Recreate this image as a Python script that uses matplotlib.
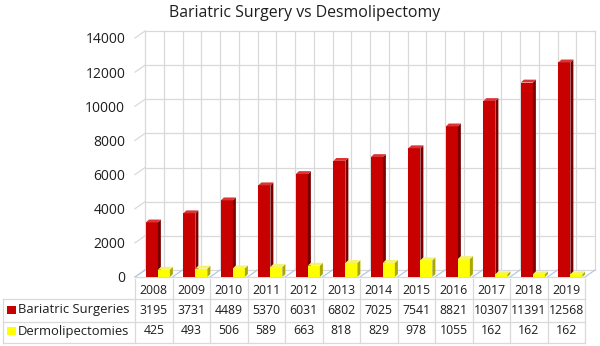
import matplotlib
matplotlib.use("Agg")
import matplotlib.pyplot as plt
from matplotlib.patches import Polygon, Rectangle
from matplotlib.transforms import blended_transform_factory

plt.rcParams['font.family'] = ['Open Sans', 'DejaVu Sans']

# ---- data ----
years = ['2008', '2009', '2010', '2011', '2012', '2013',
         '2014', '2015', '2016', '2017', '2018', '2019']
bariatric = [3195, 3731, 4489, 5370, 6031, 6802, 7025, 7541, 8821, 10307, 11391, 12568]
dermo = [425, 493, 506, 589, 663, 818, 829, 978, 1055, 162, 162, 162]
series_names = ['Bariatric Surgeries', 'Dermolipectomies']
y_ticks = [0, 2000, 4000, 6000, 8000, 10000, 12000, 14000]
title = 'Bariatric Surgery vs Desmolipectomy'

# ---- styling ----
W, H = 600, 346
RED = ('#C80000', '#7A0000', '#DC3434')      # front, side, top
YEL = ('#FFFF00', '#A8A800', '#F4F46A')
GRID = '#D9D9D9'
TXT = '#1E1E1E'


def fx(px):
    return px / W


def fy(px):
    return 1 - px / H


fig = plt.figure(figsize=(W / 100, H / 100), dpi=100)
ax = fig.add_axes([fx(135), fy(277), fx(585) - fx(135), fy(38) - fy(277)])
ax.set_xlim(-0.5, len(years) - 0.5)
ax.set_ylim(0, 14000)
for s in ax.spines.values():
    s.set_visible(False)
ax.set_xticks([])
ax.set_yticks(y_ticks)
ax.tick_params(axis='y', length=0, pad=7, labelsize=10, labelcolor=TXT)

# depth of the 3-D back wall, in data units
DX = 10 / 37.5
DY = 7 * 14000 / 239
n = len(years)

# back wall and left wall gridlines
for y in y_ticks:
    ax.plot([-0.5 + DX, n - 0.5 + DX], [y + DY, y + DY], color=GRID, lw=0.9,
            zorder=1, clip_on=False)
    ax.plot([-0.5, -0.5 + DX], [y, y + DY], color=GRID, lw=0.9,
            zorder=1, clip_on=False)
for k in range(2 * n + 1):
    xv = -0.5 + DX + 0.5 * k
    ax.plot([xv, xv], [DY, 14000 + DY], color=GRID, lw=0.9, zorder=1,
            clip_on=False)
# floor
for k in range(n + 1):
    xv = -0.5 + k
    ax.plot([xv, xv + DX], [0, DY], color='#B4C8E4', lw=0.9, zorder=1,
            clip_on=False)
ax.plot([-0.5, n - 0.5], [0, 0], color=GRID, lw=0.9, zorder=1, clip_on=False)

# bars with a simple 3-D face
BW = 0.32
dx, dy = 0.08, 170


def bar3d(xl, h, cols, z):
    ax.bar([xl], [h], width=BW, align='edge', color=cols[0], lw=0, zorder=z)
    xr = xl + BW
    ax.add_patch(Polygon([(xr, 0), (xr, h), (xr + dx, h + dy), (xr + dx, dy)],
                         closed=True, color=cols[1], lw=0, zorder=z))
    ax.add_patch(Polygon([(xl, h), (xr, h), (xr + dx, h + dy), (xl + dx, h + dy)],
                         closed=True, color=cols[2], lw=0, zorder=z))


for i in range(n):
    bar3d(i - 0.21, bariatric[i], RED, 3 + 2 * i)
    bar3d(i + 0.11, dermo[i], YEL, 4 + 2 * i)

# title
fig.text(fx(305), fy(13), title, ha='center', va='center', fontsize=11.4,
         color=TXT)

# ---- data table ----
tr = blended_transform_factory(ax.transData, fig.transFigure)
line_kw = dict(color=GRID, lw=0.9)
for yp in (299, 322, 343):
    fig.add_artist(plt.Line2D([fx(3), fx(585)], [fy(yp), fy(yp)], **line_kw))
fig.add_artist(plt.Line2D([fx(3), fx(3)], [fy(299), fy(343)], **line_kw))
for k in range(n + 1):
    ax.plot([k - 0.5, k - 0.5], [fy(279), fy(343)], transform=tr,
            clip_on=False, **line_kw)

row_y = [310, 331]
NUM_FS = 8.8
for i in range(n):
    ax.text(i, fy(290), years[i], transform=tr, ha='center', va='center',
            fontsize=NUM_FS, color=TXT)
    ax.text(i, fy(row_y[0]), str(bariatric[i]), transform=tr, ha='center',
            va='center', fontsize=NUM_FS, color=TXT)
    ax.text(i, fy(row_y[1]), str(dermo[i]), transform=tr, ha='center',
            va='center', fontsize=NUM_FS, color=TXT)

for name, yp, col in zip(series_names, row_y, (RED[0], YEL[0])):
    fig.add_artist(Rectangle((fx(7), fy(yp + 4)), fx(9), 8 / H,
                             transform=fig.transFigure, color=col, lw=0))
    fig.text(fx(18), fy(yp), name, ha='left', va='center', fontsize=9.4,
             color=TXT)

fig.savefig('out.png', dpi=100)
